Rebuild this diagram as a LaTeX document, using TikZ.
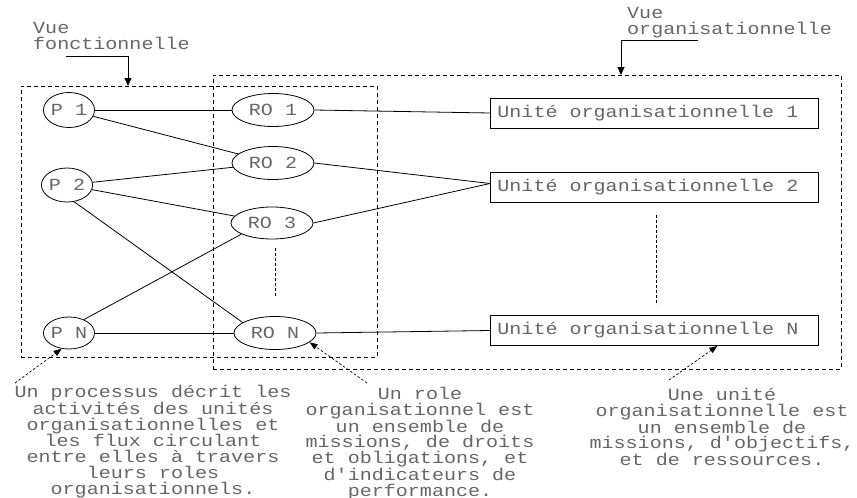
\documentclass[tikz,border=0pt]{standalone}
\usepackage{fontspec}
\newfontfamily\cour[FakeStretch=1.18]{Liberation Mono}
\newcommand\monospaced{\cour\fontsize{17}{15.7}\selectfont\fontdimen2\font=12.04pt\fontdimen3\font=0pt\fontdimen4\font=0pt\fontdimen7\font=0pt}
\newcommand\unitlabel[1]{\makebox[314pt][l]{#1}}
\usetikzlibrary{shapes.geometric,arrows.meta,calc}
\frenchspacing
\begin{document}
\begin{tikzpicture}[x=1pt,y=-1pt,
  txt/.style={font=\monospaced, text=black!60},
  proc/.style={ellipse, draw, line width=0.8pt, minimum width=50pt, minimum height=34pt, inner sep=0pt, txt},
  role/.style={ellipse, draw, line width=0.8pt, minimum width=82pt, minimum height=33pt, inner sep=0pt, txt},
  unit/.style={rectangle, draw, line width=0.8pt, minimum height=30pt, inner xsep=7pt, inner ysep=0pt, anchor=west, txt},
  viewbox/.style={draw, dash pattern=on 4pt off 3pt, line width=0.8pt, inner sep=0pt, anchor=north west},
  link/.style={line width=0.8pt},
  vdots/.style={dash pattern=on 3pt off 2pt, line width=0.9pt},
  note/.style={dash pattern=on 2.5pt off 2pt, line width=0.7pt, -{Triangle[length=8pt,width=6pt]}},
  head/.style={line width=0.8pt, -{Triangle[length=8pt,width=7pt]}},
  para/.style={txt, align=center, inner sep=0pt, anchor=north},
]
\useasboundingbox (0,0) rectangle (857,498);

% view boxes
\node[viewbox, minimum width=356pt, minimum height=271pt] (fbox) at (21,86) {};
\node[viewbox, minimum width=628pt, minimum height=294pt] (obox) at (213,75) {};

% view labels
\node[txt, align=left, anchor=north west, inner sep=0pt] (vf) at (33,22) {Vue\\fonctionnelle};
\node[txt, align=left, anchor=north west, inner sep=0pt] (vo) at (627,7) {Vue\\organisationnelle};

\coordinate (v1s) at (66,56);
\coordinate (v1c) at (128,56);
\draw[head] (v1s) -- (v1c) -- (v1c |- fbox.north);
\coordinate (v2s) at (698,40);
\coordinate (v2c) at (621,40);
\draw[head] (v2s) -- (v2c) -- (v2c |- obox.north);

% processes
\node[proc, minimum height=35pt] (P1) at (69,110) {P 1};
\node[proc] (P2) at (67,185) {P 2};
\node[proc, minimum height=32pt] (PN) at (69,333) {P N};

% roles
\node[role] (RO1) at (273,110) {RO 1};
\node[role] (RO2) at (273,163) {RO 2};
\node[role, minimum height=32pt] (RO3) at (272,223) {RO 3};
\node[role] (RON) at (275,333) {RO N};

% units
\node[unit] (UO1) at (490,113) {\unitlabel{Unité organisationnelle 1}};
\node[unit] (UO2) at (490,187.5) {\unitlabel{Unité organisationnelle 2}};
\node[unit] (UON) at (490,330.5) {\unitlabel{Unité organisationnelle N}};

% links
\draw[link] (P1) -- (RO1);
\draw[link] (P1) -- (RO2);
\draw[link] (P2) -- (RO2);
\draw[link] (P2) -- (RO3);
\draw[link] (P2.-67) -- (RON.162);
\draw[link] (PN.42) -- (RO3.-160);
\draw[link] (PN) -- (RON);
\draw[link] (RO1.east) -- (UO1.west);
\draw[link] (RO2.east) -- ($(UO2.west)+(0,-4)$);
\draw[link] (RO3.east) -- ($(UO2.west)+(0,-4)$);
\draw[link] (RON.east) -- (UON.west);

% continuation dots
\coordinate (d1a) at (275,248);
\coordinate (d1b) at (275,297);
\draw[vdots] (d1a) -- (d1b);
\coordinate (d2a) at (656,215);
\coordinate (d2b) at (656,305);
\draw[vdots] (d2a) -- (d2b);

% notes
\node[para] (n1) at (153,385) {Un processus décrit les\\activités des unités\\organisationnelles et\\les flux circulant\\entre elles à travers\\leurs roles\\organisationnels.};
\node[para] (n2) at (420,387) {Un role\\organisationnel est\\un ensemble de\\missions, de droits\\et obligations, et\\d'indicateurs de\\performance.};
\node[para] (n3) at (722,388) {Une unité\\organisationnelle est\\un ensemble de\\missions, d'objectifs,\\et de ressources.};

\coordinate (a1) at (15,383);
\coordinate (a2) at (367,383);
\coordinate (a3) at (669,380);
\draw[note] (a1) -- (PN.-115);
\draw[note] (a2) -- (RON.-15);
\draw[note] (a3) -- ($(UON.south)+(63,0)$);
\end{tikzpicture}
\end{document}
